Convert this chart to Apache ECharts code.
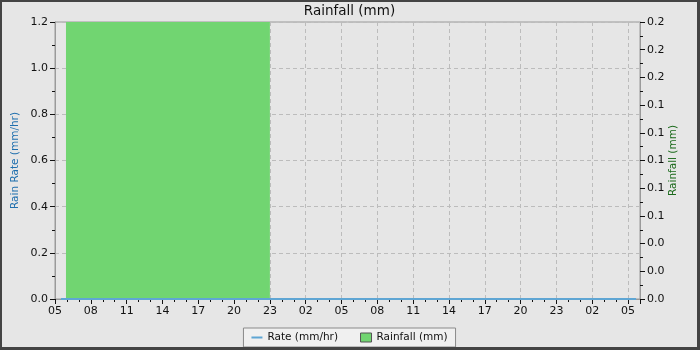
<!DOCTYPE html>
<html>
<head>
<meta charset="utf-8">
<script src="https://cdn.jsdelivr.net/npm/echarts@6/dist/echarts.min.js"></script>
<style>
html,body{margin:0;padding:0;}
#frame{position:absolute;left:0;top:0;width:700px;height:350px;background:#444;}
#main{position:absolute;left:2px;top:2px;width:695px;height:345px;background:#e6e6e6;}
</style>
</head>
<body>
<div id="frame"><div id="main"></div></div>
<script>
// Hours counted from 05:00 on the first day shown
const axisStartHour = 5;
const xMin = 0, xMax = 49, xStep = 3;
const rateMin = 0, rateMax = 1.2, rateStep = 0.2;
const rainMin = 0, rainMax = 0.2, rainStep = 0.02;

// Rain rate (mm/hr) samples: [hours, value]
const rateHours  = [0.5, 3, 6, 9, 12, 15, 18, 21, 24, 27, 30, 33, 36, 39, 42, 45, 48, 48.67];
const rateValues = [0, 0, 0, 0, 0, 0, 0, 0, 0, 0, 0, 0, 0, 0, 0, 0, 0, 0];

// Rainfall (mm) blocks: start hour, end hour, amount
const rainStart = [0.92];
const rainEnd   = [18];
const rainTotal = [0.2];

const fontFam = 'DejaVu Sans';
const chart = echarts.init(document.getElementById('main'), null, {renderer:'canvas', width: 695, height: 345});

const rateData = rateHours.map((h,i)=>[h, rateValues[i]]);
const rainData = rainStart.map((s,i)=>[s, rainEnd[i], rainTotal[i]]);

function hourLabel(v){
  if (Math.abs(v % xStep) > 1e-6) return '';
  const h = (axisStartHour + Math.round(v)) % 24;
  return (h < 10 ? '0' : '') + h;
}

chart.setOption({
  backgroundColor: '#e6e6e6',
  animation: false,
  textStyle: {fontFamily: fontFam},
  title: {
    text: 'Rainfall (mm)', left: 'center', top: 2, padding: 0,
    textStyle: {fontSize: 13.5, fontWeight: 'normal', color: '#111', fontFamily: fontFam}
  },
  grid: {left: 53, right: 57, top: 20, bottom: 48, outerBoundsMode: 'none', containLabel: false,
         show: true, borderColor: '#9a9a9a', borderWidth: 1, backgroundColor: 'transparent'},
  legend: {
    bottom: 0, left: 'center',
    padding: [4, 8], itemGap: 22, itemWidth: 11, itemHeight: 9,
    backgroundColor: '#f0f0f0', borderColor: '#8a8a8a', borderWidth: 1,
    textStyle: {fontSize: 10.5, color: '#111', fontFamily: fontFam},
    symbolKeepAspect: true,
    data: [
      {name: 'Rate (mm/hr)', icon: 'path://M0,0 L11,0 L11,2 L0,2 Z', itemStyle: {color: '#5fa6d4'}},
      {name: 'Rainfall (mm)', icon: 'rect', itemStyle: {borderColor: '#555', borderWidth: 1}}
    ]
  },
  xAxis: {
    type: 'value', min: xMin, max: xMax, interval: xStep,
    axisLine: {show: true, lineStyle: {color: '#9a9a9a'}},
    axisTick: {show: true, inside: false, length: 5, lineStyle: {color: '#111'}},
    minorTick: {show: true, splitNumber: 3, length: 3, lineStyle: {color: '#111'}},
    axisLabel: {formatter: hourLabel, fontSize: 11, color: '#111', margin: 7, showMaxLabel: false},
    splitLine: {show: true, lineStyle: {color: '#bcbcbc', type: [4, 3]}}
  },
  yAxis: [
    {
      type: 'value', min: rateMin, max: rateMax, interval: rateStep,
      name: 'Rain Rate (mm/hr)', nameLocation: 'middle', nameGap: 34, nameMoveOverlap: false,
      nameTextStyle: {color: '#1f6fae', fontSize: 10.5, fontFamily: fontFam},
      axisLine: {show: true, lineStyle: {color: '#9a9a9a'}},
      axisTick: {show: true, inside: false, length: 5, lineStyle: {color: '#111'}},
      minorTick: {show: true, splitNumber: 2, length: 3, lineStyle: {color: '#111'}},
      axisLabel: {formatter: v => v.toFixed(1), fontSize: 11, color: '#111', margin: 7},
      splitLine: {show: true, lineStyle: {color: '#bcbcbc', type: [4, 3]}}
    },
    {
      type: 'value', min: rainMin, max: rainMax, interval: rainStep,
      name: 'Rainfall (mm)', nameLocation: 'middle', nameGap: 28, nameRotate: 90, nameMoveOverlap: false,
      nameTextStyle: {color: '#1b6a1b', fontSize: 10.5, fontFamily: fontFam},
      axisLine: {show: true, lineStyle: {color: '#9a9a9a'}},
      axisTick: {show: true, inside: false, length: 5, lineStyle: {color: '#111'}},
      minorTick: {show: true, splitNumber: 2, length: 3, lineStyle: {color: '#111'}},
      axisLabel: {formatter: v => v.toFixed(1), fontSize: 11, color: '#111', margin: 7},
      splitLine: {show: false}
    }
  ],
  series: [
    {
      name: 'Rainfall (mm)', type: 'custom', yAxisIndex: 1, z: 1,
      itemStyle: {color: '#71d571'},
      encode: {x: [0, 1], y: 2},
      data: rainData,
      renderItem: function(params, api){
        const p0 = api.coord([api.value(0), api.value(2)]);
        const p1 = api.coord([api.value(1), 0]);
        return {
          type: 'rect',
          shape: {x: p0[0], y: p0[1], width: p1[0] - p0[0], height: p1[1] - p0[1]},
          style: {fill: '#71d571'}
        };
      }
    },
    {
      name: 'Rate (mm/hr)', type: 'line', yAxisIndex: 0, z: 5, clip: false,
      symbol: 'none', showSymbol: false,
      lineStyle: {color: '#5fa6d4', width: 2},
      itemStyle: {color: '#5fa6d4'},
      data: rateData
    }
  ]
});
</script>
</body>
</html>
